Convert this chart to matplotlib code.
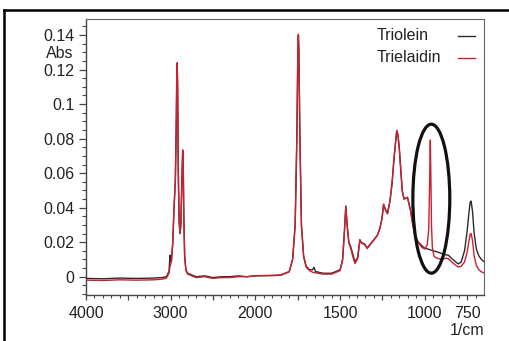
import numpy as np
import matplotlib
matplotlib.use("Agg")
import matplotlib.pyplot as plt
from matplotlib.patches import Ellipse
from matplotlib.lines import Line2D
from matplotlib.ticker import FixedLocator, FixedFormatter

plt.rcParams['font.family'] = ['Liberation Sans', 'DejaVu Sans']

# ---- data (wavenumber in 1/cm, absorbance) ----
triolein_wn = [4000, 3800, 3600, 3400, 3200, 3100, 3050, 3020, 3008, 3000, 2990, 2975, 2960,
               2945, 2935, 2928, 2923, 2918, 2910, 2900, 2890, 2880, 2868, 2858, 2853, 2845,
               2835, 2820, 2800, 2750, 2700, 2600, 2500, 2400, 2300, 2200, 2100, 2000, 1900,
               1850, 1800, 1780, 1765, 1755, 1749, 1746, 1743, 1737, 1728, 1715, 1700, 1680,
               1662, 1654, 1645, 1600, 1550, 1500, 1485, 1475, 1466, 1458, 1448, 1437, 1424,
               1412, 1396, 1383, 1375, 1368, 1355, 1340, 1320, 1300, 1280, 1265, 1252, 1243,
               1232, 1220, 1205, 1193, 1180, 1172, 1165, 1158, 1150, 1140, 1133, 1122, 1112,
               1102, 1092, 1084, 1070, 1055, 1037, 1017, 1000, 980, 965, 950, 930, 900, 880,
               870, 860, 840, 820, 802, 785, 765, 750, 740, 732, 726, 718, 708, 695, 680, 665,
               650]
triolein_abs = [-0.0010, -0.0012, -0.0008, -0.0010, -0.0008, -0.0005, 0.0000, 0.0030, 0.0125,
                0.0085, 0.0100, 0.0200, 0.0405, 0.0550, 0.0850, 0.1150, 0.1230, 0.1100, 0.0600,
                0.0320, 0.0250, 0.0300, 0.0550, 0.0730, 0.0700, 0.0350, 0.0120, 0.0040, 0.0020,
                0.0010, 0.0000, 0.0005, -0.0005, 0.0000, 0.0000, 0.0005, 0.0000, 0.0005, 0.0008,
                0.0010, 0.0030, 0.0100, 0.0300, 0.0800, 0.1300, 0.1395, 0.1300, 0.0800, 0.0300,
                0.0120, 0.0060, 0.0040, 0.0040, 0.0055, 0.0030, 0.0020, 0.0020, 0.0040, 0.0100,
                0.0250, 0.0410, 0.0300, 0.0200, 0.0174, 0.0128, 0.0087, 0.0110, 0.0215, 0.0200,
                0.0195, 0.0190, 0.0166, 0.0190, 0.0215, 0.0240, 0.0280, 0.0340, 0.0420, 0.0390,
                0.0367, 0.0440, 0.0540, 0.0700, 0.0780, 0.0846, 0.0820, 0.0740, 0.0600, 0.0500,
                0.0450, 0.0455, 0.0460, 0.0420, 0.0386, 0.0300, 0.0230, 0.0200, 0.0180, 0.0165,
                0.0160, 0.0155, 0.0150, 0.0145, 0.0135, 0.0128, 0.0126, 0.0124, 0.0105, 0.0088,
                0.0074, 0.0085, 0.0150, 0.0260, 0.0360, 0.0430, 0.0438, 0.0380, 0.0250, 0.0160,
                0.0120, 0.0100, 0.0087]

trielaidin_wn = [4000, 3800, 3600, 3400, 3200, 3100, 3050, 3020, 3008, 3000, 2990, 2975, 2960,
                 2945, 2935, 2928, 2923, 2918, 2910, 2900, 2890, 2880, 2868, 2858, 2853, 2845,
                 2835, 2820, 2800, 2750, 2700, 2600, 2500, 2400, 2300, 2200, 2100, 2000, 1900,
                 1850, 1800, 1780, 1765, 1755, 1749, 1746, 1743, 1737, 1728, 1715, 1700, 1680,
                 1660, 1600, 1550, 1500, 1485, 1475, 1466, 1458, 1448, 1437, 1424, 1412, 1396,
                 1383, 1375, 1368, 1355, 1340, 1320, 1300, 1280, 1265, 1252, 1243, 1232, 1220,
                 1205, 1193, 1180, 1172, 1165, 1158, 1150, 1140, 1133, 1122, 1112, 1102, 1092,
                 1084, 1070, 1055, 1037, 1017, 1000, 985, 976, 971, 967, 964, 960, 955, 945,
                 930, 900, 880, 870, 860, 840, 820, 802, 785, 765, 750, 740, 732, 726, 718, 708,
                 695, 680, 665, 650]
trielaidin_abs = [-0.0020, -0.0022, -0.0018, -0.0020, -0.0018, -0.0014, -0.0008, 0.0020, 0.0060,
                  0.0070, 0.0095, 0.0200, 0.0405, 0.0560, 0.0860, 0.1170, 0.1240, 0.1110, 0.0600,
                  0.0320, 0.0250, 0.0300, 0.0555, 0.0735, 0.0705, 0.0350, 0.0115, 0.0035, 0.0015,
                  0.0005, -0.0005, 0.0000, -0.0010, -0.0005, -0.0005, 0.0000, 0.0000, 0.0005,
                  0.0006, 0.0008, 0.0028, 0.0100, 0.0300, 0.0810, 0.1310, 0.1405, 0.1310, 0.0810,
                  0.0300, 0.0115, 0.0055, 0.0035, 0.0025, 0.0015, 0.0015, 0.0035, 0.0095, 0.0245,
                  0.0405, 0.0295, 0.0195, 0.0165, 0.0115, 0.0076, 0.0105, 0.0210, 0.0198, 0.0192,
                  0.0186, 0.0163, 0.0188, 0.0212, 0.0238, 0.0278, 0.0338, 0.0418, 0.0388, 0.0364,
                  0.0440, 0.0540, 0.0700, 0.0780, 0.0848, 0.0822, 0.0742, 0.0600, 0.0500, 0.0450,
                  0.0455, 0.0458, 0.0418, 0.0384, 0.0298, 0.0228, 0.0196, 0.0170, 0.0160, 0.0185,
                  0.0280, 0.0550, 0.0792, 0.0600, 0.0300, 0.0170, 0.0118, 0.0108, 0.0100, 0.0106,
                  0.0107, 0.0104, 0.0085, 0.0068, 0.0056, 0.0060, 0.0085, 0.0140, 0.0200, 0.0245,
                  0.0250, 0.0210, 0.0120, 0.0065, 0.0040, 0.0028, 0.0022]

series_labels = ["Triolein", "Trielaidin"]
series_colors = ["#2b2b2b", "#cc2030"]

x_major_ticks = [4000, 3500, 3000, 2500, 2000, 1750, 1500, 1250, 1000, 750]
x_tick_labels = ["4000", "", "3000", "", "2000", "", "1500", "", "1000", "750"]
y_major_ticks = [0, 0.02, 0.04, 0.06, 0.08, 0.10, 0.12, 0.14]
y_tick_labels = ["0", "0.02", "0.04", "0.06", "0.08", "0.1", "0.12", "0.14"]

# highlighted region (trans C=C-H band)
ellipse_center = (961, 0.0452)
ellipse_size = (218, 0.0863)

# ---- piecewise axis: 2x expansion below 2000 1/cm (increasing map) ----
BREAK = 2000.0


def fwd(x):
    x = np.asarray(x, dtype=float)
    return np.where(x >= BREAK, x, BREAK - 2.0 * (BREAK - x))


def inv(u):
    u = np.asarray(u, dtype=float)
    return np.where(u >= BREAK, u, BREAK - (BREAK - u) / 2.0)


fig = plt.figure(figsize=(5.09, 3.41), dpi=100)
ax = fig.add_axes([86 / 509, 1 - 295 / 341, (484 - 86) / 509, (295 - 19) / 341])
ax.set_xscale('function', functions=(fwd, inv))

ax.plot(triolein_wn, triolein_abs, color=series_colors[0], lw=1.0, zorder=3)
ax.plot(trielaidin_wn, trielaidin_abs, color=series_colors[1], lw=1.0, zorder=4)

ax.set_xlim(4000, 650)
ax.set_ylim(-0.0106, 0.1493)

minor_x = [v for v in range(2100, 4000, 100) if v % 500] + [v for v in range(700, 2000, 50) if v % 250]
ax.xaxis.set_major_locator(FixedLocator(x_major_ticks))
ax.xaxis.set_major_formatter(FixedFormatter(x_tick_labels))
ax.xaxis.set_minor_locator(FixedLocator(minor_x))
ax.yaxis.set_major_locator(FixedLocator(y_major_ticks))
ax.yaxis.set_major_formatter(FixedFormatter(y_tick_labels))
ax.yaxis.set_minor_locator(FixedLocator([round(-0.01 + 0.005 * i, 3) for i in range(32)]))

tick_color = '#444444'
ax.tick_params(axis='both', which='both', direction='out', color=tick_color,
               labelsize=11.5, labelcolor='#222222')
ax.tick_params(axis='y', which='major', length=5.2, width=0.9, pad=3.0)
ax.tick_params(axis='y', which='minor', length=3.1, width=0.8)
ax.tick_params(axis='x', which='major', length=3.8, width=0.9, pad=4.2)
ax.tick_params(axis='x', which='minor', length=2.3, width=0.8)

for side in ['left', 'bottom']:
    ax.spines[side].set_color('#444444')
    ax.spines[side].set_linewidth(1.0)
for side in ['top', 'right']:
    ax.spines[side].set_color('#666666')
    ax.spines[side].set_linewidth(0.8)

# y-axis unit label placed like a tick label
ax.text(-0.031, 0.1295, "Abs", transform=ax.get_yaxis_transform(), ha='right', va='center',
        fontsize=11.5, color='#222222')
# x-axis unit label
ax.text(1.0, -0.127, "1/cm", transform=ax.transAxes, ha='right', va='center',
        fontsize=11.5, color='#222222')

ax.add_patch(Ellipse(ellipse_center, ellipse_size[0], ellipse_size[1], fill=False,
                     edgecolor='#111111', lw=2.3, zorder=5))

# legend: label text on the left (left-aligned), short line key on the right
legend_rows_y = [0.940, 0.860]
for label, color, yy in zip(series_labels, series_colors, legend_rows_y):
    ax.text(0.730, yy, label, transform=ax.transAxes, ha='left', va='center',
            fontsize=11.5, color='#222222')
    ax.add_line(Line2D([0.935, 0.977], [yy, yy], transform=ax.transAxes, color=color, lw=1.0))

# outer frame (cropped figure border)
fig.add_artist(Line2D([4 / 509, 4 / 509], [0, 1 - 10 / 341], transform=fig.transFigure,
                      color='black', lw=1.8))
fig.add_artist(Line2D([4 / 509, 1], [1 - 10 / 341, 1 - 10 / 341], transform=fig.transFigure,
                      color='black', lw=1.8))

fig.savefig("out.png", dpi=100)
